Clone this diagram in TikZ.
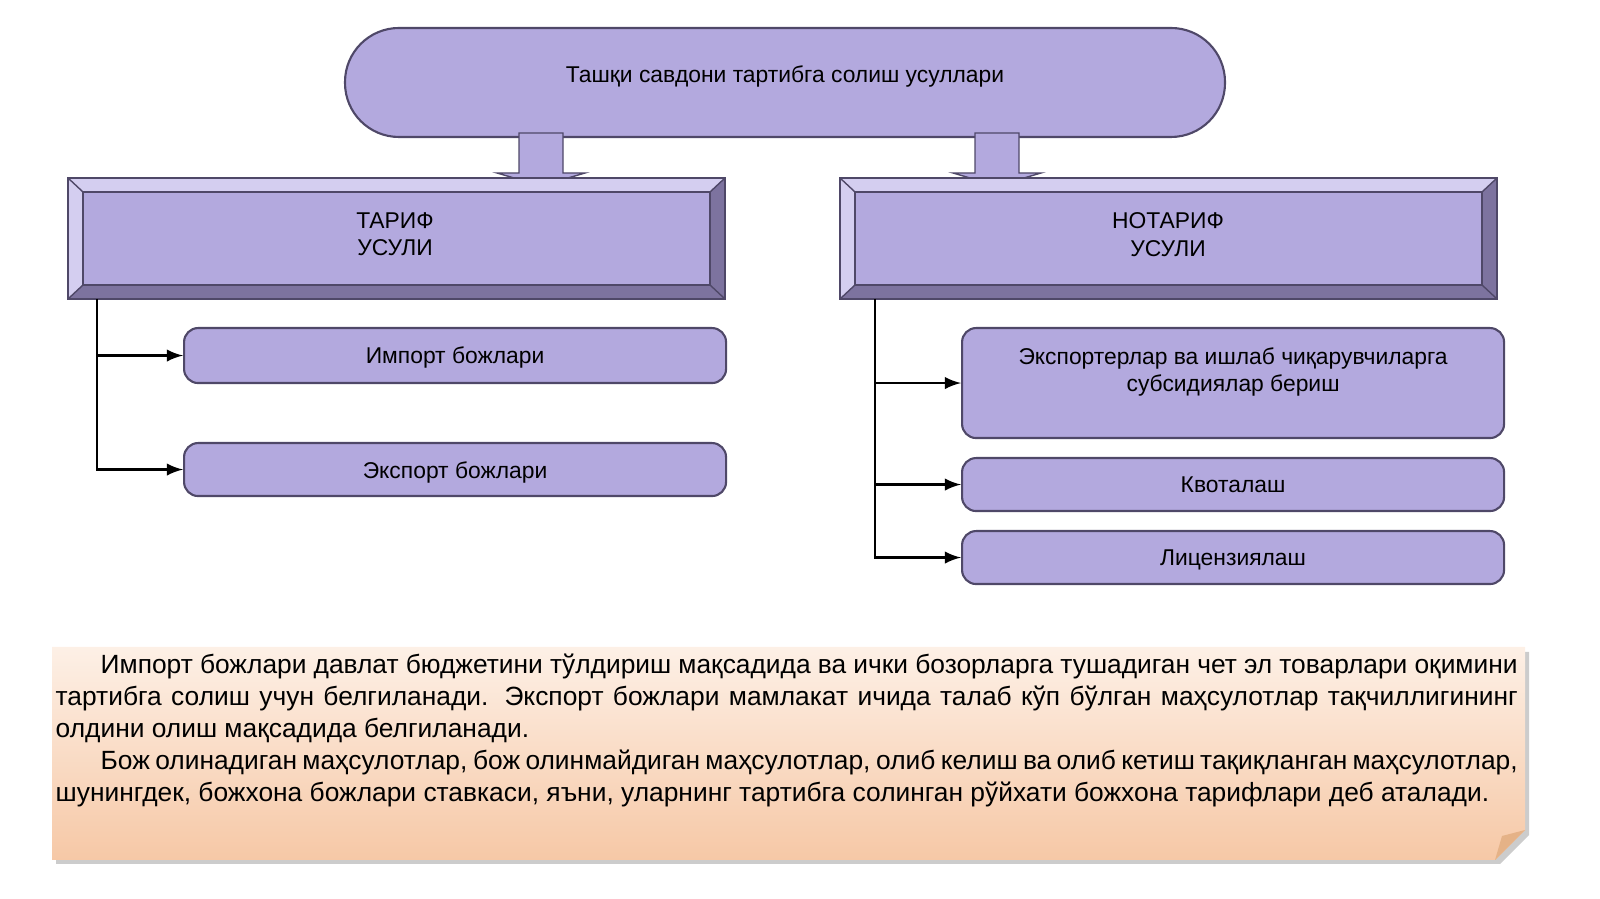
\documentclass[tikz,border=0pt]{standalone}
\usepackage{fontspec}
\setmainfont{Liberation Sans}
\usetikzlibrary{calc}
\usetikzlibrary{shapes}
\definecolor{lilac}{HTML}{B3A9DE}
\definecolor{lilacL}{HTML}{D4CEF0}
\definecolor{lilacD}{HTML}{7D739F}
\definecolor{edge}{HTML}{4F4868}
\definecolor{peachT}{HTML}{FDF0E6}
\definecolor{peachB}{HTML}{F6C8A6}
\tikzset{
  item/.style={draw=edge, fill=lilac, rounded corners=4pt, semithick},
  itext/.style={font=\fontsize{6.5}{7.9}\selectfont, align=center, anchor=north},
  link/.style={semithick, -latex},
}
% bevelled box: x1 y1 x2 y2 (outer), bevel 0.15
\newcommand{\bevbox}[4]{
  \fill[lilacL] (#1,#2) -- (#3,#2) -- ($(#3,#2)+(-0.15,-0.14)$) -- ($(#1,#2)+(0.15,-0.14)$) -- cycle;
  \fill[lilacL] (#1,#2) -- (#1,#4) -- ($(#1,#4)+(0.15,0.14)$) -- ($(#1,#2)+(0.15,-0.14)$) -- cycle;
  \fill[lilacD] (#3,#2) -- (#3,#4) -- ($(#3,#4)+(-0.15,0.14)$) -- ($(#3,#2)+(-0.15,-0.14)$) -- cycle;
  \fill[lilacD] (#1,#4) -- (#3,#4) -- ($(#3,#4)+(-0.15,0.14)$) -- ($(#1,#4)+(0.15,0.14)$) -- cycle;
  \filldraw[fill=lilac, draw=edge] ($(#1,#2)+(0.15,-0.14)$) rectangle ($(#3,#4)+(-0.15,0.14)$);
  \draw[edge, semithick] (#1,#2) rectangle (#3,#4);
  \draw[edge] (#1,#2) -- ++(0.15,-0.14) (#3,#2) -- ++(-0.15,-0.14)
              (#1,#4) -- ++(0.15,0.14) (#3,#4) -- ++(-0.15,0.14);
}
% block arrow down at x, from y1 to y2
\newcommand{\blockarrow}[3]{
  \filldraw[fill=lilac, draw=edge] ($(#1,#2)+(-0.22,0)$) -- ($(#1,#2)+(0.22,0)$) -- ($(#1,#3)+(0.22,0.13)$)
    -- ($(#1,#3)+(0.44,0.13)$) -- (#1,#3) -- ($(#1,#3)+(-0.44,0.13)$) -- ($(#1,#3)+(-0.22,0.13)$) -- cycle;
}
\begin{document}
\begin{tikzpicture}[x=1cm, y=1cm]
  \useasboundingbox (0,0) rectangle (16,-8.99);
  % top oval
  \filldraw[fill=lilac, draw=edge, semithick, rounded corners=0.54cm] (3.45,-0.28) rectangle (12.25,-1.37);
  \node[itext] (top) at (7.85,-0.53) {Ташқи савдони тартибга солиш усуллари};
  \blockarrow{5.41}{-1.33}{-1.86}
  \blockarrow{9.97}{-1.33}{-1.86}
  % main boxes
  \bevbox{0.68}{-1.78}{7.25}{-2.99}
  \bevbox{8.40}{-1.78}{14.97}{-2.99}
  \node[itext] (tarif) at (3.95,-2.0) {ТАРИФ\\УСУЛИ};
  \node[itext] (notarif) at (11.68,-2.0) {НОТАРИФ\\УСУЛИ};
  % left items
  \node[item, minimum width=5.42cm, minimum height=0.55cm, anchor=north west] (imp) at (1.83,-3.27) {};
  \node[itext] at ($(imp.north)+(0,-0.07)$) {Импорт божлари};
  \node[item, minimum width=5.42cm, minimum height=0.53cm, anchor=north west] (exp) at (1.83,-4.42) {};
  \node[itext] at ($(exp.north)+(0,-0.07)$) {Экспорт божлари};
  \coordinate (lt) at (0.97,-2.99);
  \draw[link] (lt) |- (exp.west);
  \draw[link] (lt |- imp.west) -- (imp.west);
  % right items
  \node[item, minimum width=5.42cm, minimum height=1.1cm, anchor=north west] (sub) at (9.61,-3.27) {};
  \node[itext] at ($(sub.north)+(0,-0.08)$) {Экспортерлар ва ишлаб чиқарувчиларга\\субсидиялар бериш};
  \node[item, minimum width=5.42cm, minimum height=0.53cm, anchor=north west] (kvo) at (9.61,-4.57) {};
  \node[itext] at ($(kvo.north)+(0,-0.07)$) {Квоталаш};
  \node[item, minimum width=5.42cm, minimum height=0.53cm, anchor=north west] (lic) at (9.61,-5.30) {};
  \node[itext] at ($(lic.north)+(0,-0.07)$) {Лицензиялаш};
  \coordinate (rt) at (8.75,-2.99);
  \draw[link] (rt) |- (lic.west);
  \draw[link] (rt |- sub.west) -- (sub.west);
  \draw[link] (rt |- kvo.west) -- (kvo.west);
  % note
  \fill[gray!40] (0.56,-6.52) -- (15.29,-6.52) -- (15.29,-8.35) -- (15.0,-8.64) -- (0.56,-8.64) -- cycle;
  \shade[top color=peachT, bottom color=peachB] (0.52,-6.47) -- (15.25,-6.47) -- (15.25,-8.30) -- (14.95,-8.60) -- (0.52,-8.60) -- cycle;
  \fill[peachB!70!brown] (15.25,-8.30) -- (14.95,-8.60) -- (15.02,-8.36) -- cycle;
  \node[anchor=north west, inner sep=0pt, text width=14.62cm, align=justify,
        font=\fontsize{7.5}{9.1}\selectfont] (note) at (0.55,-6.53)
  {\parindent=0.45cm\indent Импорт божлари давлат бюджетини тўлдириш мақсадида ва ички бозорларга тушадиган чет эл товарлари оқимини тартибга солиш учун белгиланади. Экспорт божлари мамлакат ичида талаб кўп бўлган маҳсулотлар тақчиллигининг олдини олиш мақсадида белгиланади.\par
  \indent Бож олинадиган маҳсулотлар, бож олинмайдиган маҳсулотлар, олиб келиш ва олиб кетиш тақиқланган маҳсулотлар, шунингдек, божхона божлари ставкаси, яъни, уларнинг тартибга солинган рўйхати божхона тарифлари деб аталади.};
\end{tikzpicture}
\end{document}
